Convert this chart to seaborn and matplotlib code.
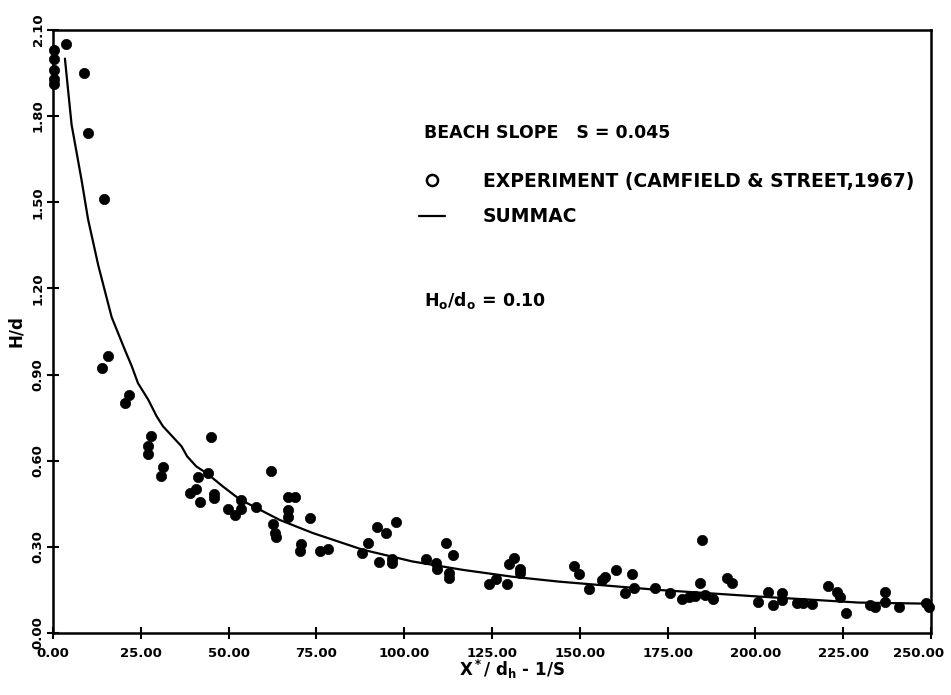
import matplotlib
matplotlib.use("Agg")
import matplotlib.pyplot as plt
from matplotlib.lines import Line2D
from matplotlib.transforms import ScaledTranslation
import seaborn as sns
import pandas as pd

# ---- data ----
exp_x = [0.3, 0.3, 0.3, 0.3, 0.3, 3.7, 8.9, 9.9, 14.6, 15.7, 14.1, 21.7, 20.6,
         27.8, 27.1, 27.1, 31.2, 30.9, 45.1, 41.3, 40.6, 38.9, 41.8, 44.1, 45.8,
         45.8, 49.8, 51.7, 53.4, 53.4, 57.9, 62.1, 66.9, 68.8, 66.9, 66.9, 62.6,
         63.3, 63.5, 73.3, 70.6, 70.4, 75.9, 78.4, 92.2, 94.8, 97.8, 89.6, 88.0,
         92.9, 96.5, 96.5, 111.8, 113.9, 106.2, 109.0, 109.2, 112.8, 112.8, 124.1,
         126.0, 129.4, 129.8, 131.3, 133.1, 133.1, 148.3, 149.7, 152.6, 156.3,
         157.3, 160.3, 163.0, 165.0, 165.3, 171.3, 175.8, 179.1, 181.0, 182.9,
         184.8, 184.3, 185.7, 187.8, 191.8, 193.3, 200.7, 203.7, 205.1, 207.5,
         207.5, 211.7, 213.6, 216.0, 220.7, 223.1, 224.0, 225.9, 232.6, 234.0,
         236.8, 236.8, 240.8, 248.7, 249.5]
exp_y = [2.03, 2.00, 1.96, 1.93, 1.91, 2.05, 1.95, 1.74, 1.51, 0.966, 0.923, 0.827,
         0.80, 0.687, 0.652, 0.624, 0.578, 0.548, 0.683, 0.542, 0.501, 0.489, 0.456,
         0.557, 0.483, 0.47, 0.431, 0.412, 0.464, 0.431, 0.438, 0.563, 0.473, 0.473,
         0.429, 0.404, 0.379, 0.348, 0.334, 0.402, 0.31, 0.287, 0.286, 0.292, 0.369,
         0.348, 0.388, 0.313, 0.278, 0.246, 0.257, 0.243, 0.315, 0.272, 0.257, 0.243,
         0.223, 0.208, 0.191, 0.171, 0.188, 0.171, 0.241, 0.26, 0.222, 0.208, 0.235,
         0.206, 0.152, 0.185, 0.196, 0.22, 0.138, 0.205, 0.156, 0.156, 0.138, 0.117,
         0.127, 0.129, 0.324, 0.173, 0.133, 0.117, 0.191, 0.173, 0.109, 0.144, 0.098,
         0.138, 0.115, 0.106, 0.106, 0.101, 0.164, 0.144, 0.124, 0.068, 0.098, 0.092,
         0.144, 0.109, 0.092, 0.103, 0.092]

summac_x = [3.4, 5.3, 8.1, 10.0, 12.9, 16.7, 20.5, 22.4, 24.2, 27.1, 29.5, 31.3,
            36.6, 38.2, 40.8, 43.7, 48.4, 53.1, 64.5, 74.0, 88.2, 102.4, 116.6,
            130.8, 144.0, 172.4, 200.9, 229.3, 250.0]
summac_y = [2.00, 1.77, 1.58, 1.44, 1.28, 1.10, 0.985, 0.93, 0.87, 0.813, 0.755,
            0.72, 0.65, 0.615, 0.58, 0.557, 0.51, 0.466, 0.394, 0.348, 0.29, 0.249,
            0.22, 0.196, 0.179, 0.15, 0.127, 0.106, 0.102]

x_ticks = [0, 25, 50, 75, 100, 125, 150, 175, 200, 225, 250]
x_ticklabels = ["0.00", "25.00", "50.00", "75.00", "100.00", "125.00", "150.00",
                "175.00", "200.00", "225.00", "250.00"]
y_ticks = [0.0, 0.3, 0.6, 0.9, 1.2, 1.5, 1.8, 2.1]
y_ticklabels = ["0.00", "0.30", "0.60", "0.90", "1.20", "1.50", "1.80", "2.10"]

exp_df = pd.DataFrame({"x": exp_x, "y": exp_y})
sum_df = pd.DataFrame({"x": summac_x, "y": summac_y})

sns.set_theme(style="white")
plt.rcParams["font.family"] = ["DejaVu Sans"]
plt.rcParams["font.weight"] = "bold"
plt.rcParams["text.color"] = "black"
plt.rcParams["axes.labelcolor"] = "black"
plt.rcParams["xtick.color"] = "black"
plt.rcParams["ytick.color"] = "black"
plt.rcParams["mathtext.fontset"] = "custom"
plt.rcParams["mathtext.rm"] = "DejaVu Sans:bold"
plt.rcParams["mathtext.bf"] = "DejaVu Sans:bold"
plt.rcParams["mathtext.it"] = "DejaVu Sans:bold"
plt.rcParams["mathtext.default"] = "bf"

fig, ax = plt.subplots(figsize=(9.51, 6.95), dpi=100)
fig.subplots_adjust(left=0.0557, right=0.979, bottom=0.0892, top=0.957)

sns.lineplot(data=sum_df, x="x", y="y", ax=ax, color="black", linewidth=1.6,
             sort=False, estimator=None)
sns.scatterplot(data=exp_df, x="x", y="y", ax=ax, color="black", s=55,
                edgecolor="black", linewidth=0.5, zorder=3, clip_on=False)

ax.set_xlim(0, 250)
ax.set_ylim(0, 2.1)
ax.set_xticks(x_ticks)
ax.set_xticklabels(x_ticklabels, fontsize=9.5, fontweight="bold")
ax.set_yticks(y_ticks)
ax.set_yticklabels(y_ticklabels, fontsize=9.5, fontweight="bold", rotation=90, va="center")
ax.tick_params(axis="both", direction="inout", length=8, width=1.5, color="black",
               bottom=True, left=True)
ax.tick_params(axis="x", pad=6)
ax.tick_params(axis="y", pad=2)
last = ax.get_xticklabels()[-1]
last.set_transform(last.get_transform() + ScaledTranslation(-9 / 72, 0, fig.dpi_scale_trans))
for sp in ax.spines.values():
    sp.set_color("black")
    sp.set_linewidth(1.8)

ax.set_xlabel(r"X$^*$/ d$_h$ - 1/S", fontsize=12, fontweight="bold")
ax.xaxis.set_label_coords(0.523, -0.042)
ax.set_ylabel("H/d", fontsize=12, fontweight="bold", labelpad=5)

ax.text(0.4226, 0.829, "BEACH SLOPE   S = 0.045", transform=ax.transAxes,
        fontsize=12.5, fontweight="bold", va="center", ha="left")
ax.text(0.4226, 0.552, r"H$_o$/d$_o$ = 0.10", transform=ax.transAxes,
        fontsize=12.5, fontweight="bold", va="center", ha="left")

handles = [Line2D([], [], marker="o", markerfacecolor="none", markeredgecolor="black",
                  markeredgewidth=1.8, markersize=8, linestyle="none"),
           Line2D([], [], color="black", linewidth=1.6)]
leg = ax.legend(handles, ["EXPERIMENT (CAMFIELD & STREET,1967)", "SUMMAC"],
                loc="upper left", bbox_to_anchor=(0.417, 0.765), frameon=False,
                borderpad=0, borderaxespad=0, handlelength=1.4, handletextpad=2.0,
                labelspacing=0.9, prop={"size": 13.5, "weight": "bold"})

fig.savefig("out.png", dpi=100)
